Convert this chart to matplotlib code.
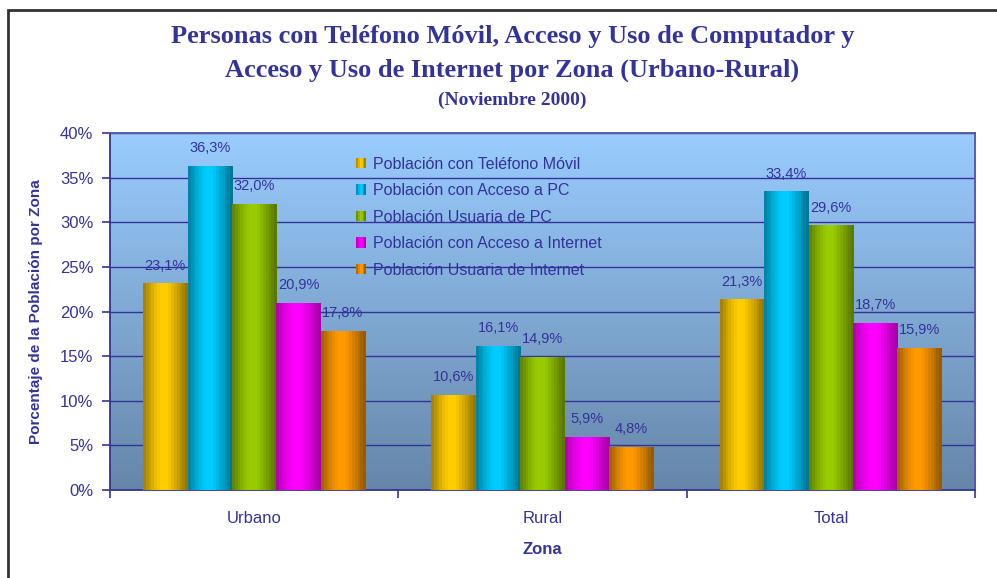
import numpy as np
import matplotlib
matplotlib.use("Agg")
import matplotlib.pyplot as plt
from matplotlib.patches import Rectangle
from matplotlib.legend_handler import HandlerPatch
from matplotlib.colors import to_rgb

# ---------------- data ----------------
zonas = ["Urbano", "Rural", "Total"]
series_names = [
    "Población con Teléfono Móvil",
    "Población con Acceso a PC",
    "Población Usuaria de PC",
    "Población con Acceso a Internet",
    "Población Usuaria de Internet",
]
movil = [23.1, 10.6, 21.3]
acceso_pc = [36.3, 16.1, 33.4]
usuaria_pc = [32.0, 14.9, 29.6]
acceso_internet = [20.9, 5.9, 18.7]
usuaria_internet = [17.8, 4.8, 15.9]
values = [movil, acceso_pc, usuaria_pc, acceso_internet, usuaria_internet]
yticks = [0, 5, 10, 15, 20, 25, 30, 35, 40]

# ---------------- style ----------------
dark_cols = ["#8C6E00", "#006E8C", "#557000", "#A000A0", "#8C5500"]
bright_cols = ["#FFCC00", "#00CCFF", "#99CC00", "#FF00FF", "#FF9900"]
txt = "#333399"

plt.rcParams["font.family"] = ["Liberation Sans", "DejaVu Sans"]

fig = plt.figure(figsize=(9.97, 5.78), dpi=100)
ax = fig.add_axes([110 / 997, 1 - 490 / 578, 865 / 997, 357 / 578])


def profile(n=16):
    t = (np.arange(n) + 0.5) / n
    f = np.where(t < 0.38, 0.12 + 0.88 * (t / 0.38) ** 0.8,
                 np.where(t < 0.55, 1.0, 1.0 - (t - 0.55) / 0.45 * 0.97))
    return np.clip(f, 0, 1)


def grad_row(dark, bright, n=16):
    d = np.array(to_rgb(dark))
    b = np.array(to_rgb(bright))
    f = profile(n)[:, None]
    return (d + (b - d) * f)[None, :, :]


# background gradient
bg = np.linspace(0, 1, 200)[:, None]
top = np.array(to_rgb("#99CCFF"))
bot = np.array(to_rgb("#6686A8"))
bgimg = (top + (bot - top) * bg)[:, None, :]
ax.imshow(bgimg, extent=[-0.5, 2.5, 0, 40], aspect="auto", zorder=0,
          interpolation="bilinear")

x = np.arange(len(zonas))
w = 0.154
for i, (vals, name) in enumerate(zip(values, series_names)):
    pos = x + (i - 2) * w
    bars = ax.bar(pos, vals, width=w, color="none", edgecolor="none",
                  zorder=3, label=name)
    img = grad_row(dark_cols[i], bright_cols[i])
    for r, v in zip(bars, vals):
        x0 = r.get_x()
        ax.imshow(img, extent=[x0, x0 + r.get_width(), 0, r.get_height()],
                  aspect="auto", interpolation="nearest", zorder=3)
        ax.annotate(f"{v:.1f}".replace(".", ",") + "%",
                    (r.get_x() + r.get_width() / 2, r.get_height()),
                    xytext=(0, 8), textcoords="offset points",
                    ha="center", va="bottom", fontsize=10.5, color=txt,
                    zorder=5)

ax.set_xlim(-0.5, 2.5)
ax.set_ylim(0, 40)
ax.set_yticks(yticks)
ax.set_yticklabels([f"{v}%" for v in yticks], fontsize=12, color=txt)
ax.yaxis.grid(True, color="#333399", linewidth=1.0, zorder=1)
ax.set_axisbelow(True)
for gl in ax.get_ygridlines():
    gl.set_zorder(1)

ax.set_xticks([-0.5, 0.5, 1.5, 2.5])
ax.set_xticklabels([])
ax.set_xticks(x, minor=True)
ax.set_xticklabels(zonas, minor=True, fontsize=12, color=txt)
ax.tick_params(axis="x", which="minor", length=0, pad=15)
ax.tick_params(axis="x", which="major", length=6, color=txt, width=1.2)
ax.tick_params(axis="y", length=6, color=txt, width=1.2, pad=6)

for s in ["left", "bottom", "right", "top"]:
    ax.spines[s].set_color("#5555AA")
    ax.spines[s].set_linewidth(1.3)
ax.spines["bottom"].set_color("#333399")
ax.spines["left"].set_color("#333399")

ax.set_xlabel("Zona", fontsize=12, fontweight="bold", color=txt, labelpad=12)
ax.set_ylabel("Porcentaje de la Población por Zona", fontsize=11,
              fontweight="bold", color=txt, labelpad=12)


class GradHandler(HandlerPatch):
    def __init__(self, dark, bright):
        super().__init__()
        self.dark = dark
        self.bright = bright

    def create_artists(self, legend, orig_handle, xdescent, ydescent,
                       width, height, fontsize, trans):
        cols = grad_row(self.dark, self.bright, 6)[0]
        n = len(cols)
        arts = []
        for k in range(n):
            r = Rectangle((-xdescent + k * width / n, -ydescent),
                          width / n + 0.01, height, facecolor=cols[k],
                          edgecolor="none", transform=trans)
            arts.append(r)
        return arts


handles, labels = ax.get_legend_handles_labels()
hmap = {h: GradHandler(dark_cols[i], bright_cols[i])
        for i, h in enumerate(handles)}
leg = ax.legend(handles, labels, handler_map=hmap, loc="upper left",
                bbox_to_anchor=(0.272, 0.965), frameon=False, fontsize=11.5,
                handlelength=0.6, handleheight=0.65, handletextpad=0.45,
                labelspacing=0.72, borderpad=0.2)
for t in leg.get_texts():
    t.set_color(txt)
leg.set_zorder(6)

# titles
serif = ["Liberation Serif", "DejaVu Serif"]
fig.text(0.514, 1 - 37 / 578, "Personas con Teléfono Móvil, Acceso y Uso de Computador y",
         ha="center", va="center", fontsize=19, fontweight="bold", color=txt,
         family=serif)
fig.text(0.514, 1 - 70 / 578, "Acceso y Uso de Internet por Zona (Urbano-Rural)",
         ha="center", va="center", fontsize=19, fontweight="bold", color=txt,
         family=serif)
fig.text(0.514, 1 - 100 / 578, "(Noviembre 2000)",
         ha="center", va="center", fontsize=14, fontweight="bold", color=txt,
         family=serif)

# figure border (chart area frame)
fig.patches.append(Rectangle((8 / 997, -0.05), 1.2, 1 - 10 / 578 + 0.05,
                             transform=fig.transFigure, fill=False,
                             edgecolor="#333333", linewidth=2))

fig.savefig("out.png", dpi=100)
